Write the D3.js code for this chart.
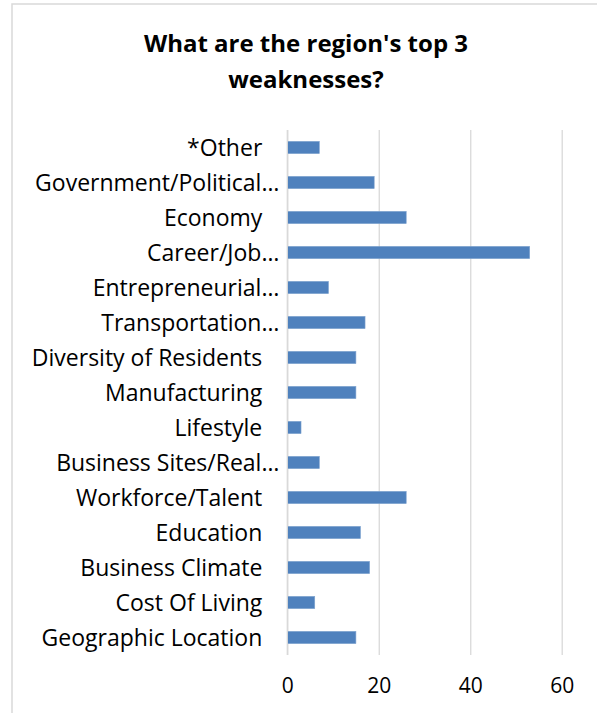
<!DOCTYPE html>
<html>
<head>
<meta charset="utf-8">
<script src="https://cdn.jsdelivr.net/npm/d3@7"></script>
<style>
  html, body { margin: 0; padding: 0; background: #fff; }
  svg { display: block; }
</style>
</head>
<body>
<svg id="chart" width="597" height="713"></svg>
<script>
// Survey responses: top three weaknesses of the region (count of mentions)
const titleLines = ["What are the region's top 3", "weaknesses?"];
const categories = [
  "*Other",
  "Government/Political…",
  "Economy",
  "Career/Job…",
  "Entrepreneurial…",
  "Transportation…",
  "Diversity of Residents",
  "Manufacturing",
  "Lifestyle",
  "Business Sites/Real…",
  "Workforce/Talent",
  "Education",
  "Business Climate",
  "Cost Of Living",
  "Geographic Location"
];
const counts = [7, 19, 26, 53, 9, 17, 15, 15, 3, 7, 26, 16, 18, 6, 15];
const xTicks = [0, 20, 40, 60];

const FONT = "'Open Sans', 'Noto Sans', sans-serif";
const LABEL_SIZE = 23;
const TICK_SIZE = 21;
const TITLE_SIZE = 24;
const svg = d3.select("#chart");

// outer chart border (left and top edges fall inside the window)
svg.append("rect")
  .attr("x", 12).attr("y", 4)
  .attr("width", 620).attr("height", 740)
  .attr("fill", "#fff")
  .attr("stroke", "#d9d9d9").attr("stroke-width", 1.5);

const x = d3.scaleLinear().domain([0, 60]).range([287.3, 561.7]);
const y = d3.scaleBand().domain(categories).range([130, 655])
  .paddingInner(0.65).paddingOuter(0.325);

// title
svg.append("g").selectAll("text").data(titleLines).join("text")
  .attr("x", 306)
  .attr("y", (d, i) => 52 + i * 36)
  .attr("text-anchor", "middle")
  .attr("font-family", FONT).attr("font-weight", "bold")
  .attr("font-size", TITLE_SIZE).attr("fill", "#000")
  .text(d => d);

// vertical gridlines
const xAxis = d3.axisBottom(x).tickValues(xTicks).tickSize(-(655 - 130)).tickPadding(0);
const gx = svg.append("g").attr("transform", "translate(0,655)").call(xAxis);
gx.select(".domain").remove();
gx.selectAll(".tick line").attr("stroke", "#d9d9d9").attr("stroke-width", 1.3);
gx.selectAll(".tick text")
  .attr("y", 38).attr("dy", 0)
  .attr("font-family", FONT).attr("font-size", TICK_SIZE).attr("fill", "#000");

// bars
svg.append("g").selectAll("rect").data(categories).join("rect")
  .attr("x", x(0))
  .attr("y", d => y(d))
  .attr("width", (d, i) => x(counts[i]) - x(0))
  .attr("height", y.bandwidth())
  .attr("fill", "#4f81bd")
  .attr("stroke", "#7fa3cf").attr("stroke-width", 0.6);

// category axis line
svg.append("line")
  .attr("x1", x(0)).attr("x2", x(0))
  .attr("y1", 130).attr("y2", 655)
  .attr("stroke", "#d9d9d9").attr("stroke-width", 1.3);

// category labels (truncated ones sit closer to the axis)
svg.append("g").selectAll("text").data(categories).join("text")
  .attr("x", d => d.endsWith("…") ? x(0) - 8 : x(0) - 25)
  .attr("y", d => y(d) + y.bandwidth() / 2)
  .attr("dy", "0.36em")
  .attr("text-anchor", "end")
  .attr("font-family", FONT).attr("font-size", LABEL_SIZE).attr("fill", "#000")
  .text(d => d);
</script>
</body>
</html>
